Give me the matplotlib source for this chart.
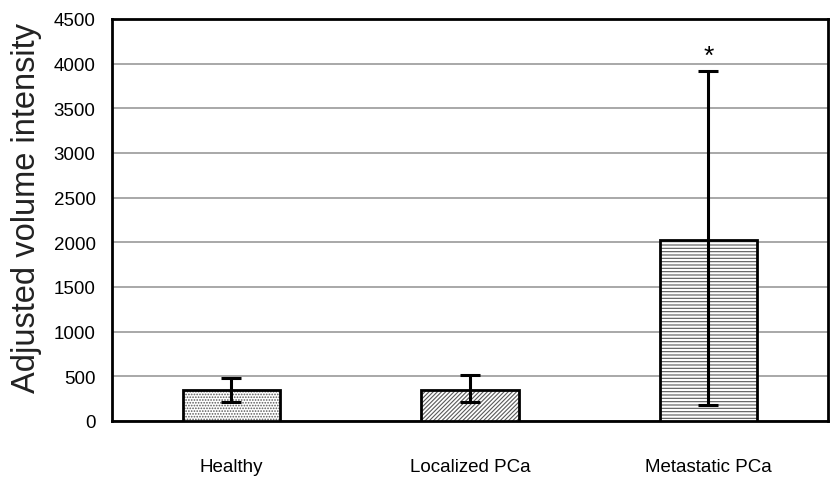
import matplotlib.pyplot as plt
import numpy as np

plt.rcParams['font.family'] = ['Liberation Sans', 'DejaVu Sans']
plt.rcParams['hatch.linewidth'] = 0.8

# veriler
groups = ["Healthy", "Localized PCa", "Metastatic PCa"]
means = [348, 350, 2030]
err_low = [135, 137, 1850]
err_high = [135, 165, 1885]
hatches = ["......", "////////", "-----"]
yticks = [0, 500, 1000, 1500, 2000, 2500, 3000, 3500, 4000, 4500]

fig = plt.figure(figsize=(8.31, 4.85), dpi=100)
ax = fig.add_axes([0.135, 0.13, 0.861, 0.829])

x = np.arange(len(groups))
bars = ax.bar(x, means, width=0.41, color="white", edgecolor="black",
              linewidth=2, zorder=3)
for b, h in zip(bars, hatches):
    b.set_hatch(h)
    b._hatch_color = (0.35, 0.35, 0.35, 1)

ax.errorbar(x, means, yerr=[err_low, err_high], fmt="none", ecolor="black",
            elinewidth=2.2, capsize=7, capthick=2.2, zorder=4)

# anlamlilik yildizi
ax.text(x[2], means[2] + err_high[2] + 40, "*", ha="center", va="bottom",
        fontsize=19)

ax.set_xlim(-0.5, 2.5)
ax.set_ylim(0, 4500)
ax.set_yticks(yticks)
ax.set_xticks(x)
ax.set_xticklabels(groups, fontsize=13.5)
ax.tick_params(axis="x", length=0, pad=27)
ax.tick_params(axis="y", length=0, pad=12, labelsize=13.5)
ax.yaxis.grid(True, color="#999999", linewidth=1.2, zorder=0)
ax.set_axisbelow(True)
for s in ax.spines.values():
    s.set_linewidth(2)
    s.set_color("black")
ax.set_ylabel("Adjusted volume intensity", fontsize=23.5, color="#222222")
ax.yaxis.set_label_coords(-0.098, 0.533)

fig.savefig("out.png", dpi=100)
